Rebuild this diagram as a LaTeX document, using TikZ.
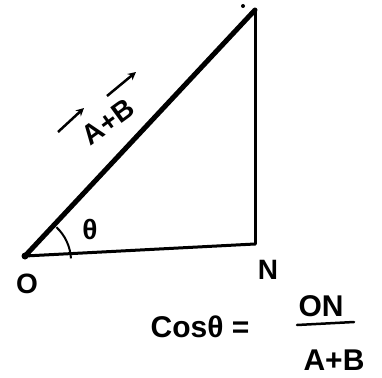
\documentclass[tikz,border=0pt]{standalone}
\usepackage{fontspec}
\setmainfont{Liberation Sans}
\usetikzlibrary{arrows.meta}
\begin{document}
\begin{tikzpicture}[x=1pt,y=-1pt,
  lbl/.style={inner sep=0pt, font=\fontsize{28}{30}\selectfont\bfseries},
  flbl/.style={inner sep=0pt, font=\fontsize{30}{32}\selectfont\bfseries},
  edge/.style={line width=3pt, line cap=round},
  vec/.style={line width=2.5pt, -{Stealth[length=8pt,width=8pt]}}]
\useasboundingbox (0,0) rectangle (382,377);
\coordinate (O) at (25,256);
\coordinate (T) at (255,10);
\coordinate (N) at (255,244);
\fill (O) circle (3.5);
\fill (243,6) circle (2);
\draw[line width=5pt, line cap=round] (O) -- (T);
\draw[edge] (T) -- (N);
\draw[edge] (O) -- (N);
\draw[line width=2pt] ([shift={(3:46)}]O) arc[start angle=-3, end angle=-47, radius=46];
\node[lbl] (o) at (27,284) {O};
\node[lbl] (n) at (268,270) {N};
\node[lbl] (th) at (90,229) {θ};
\node[lbl, rotate=36] (ab) at (108,122) {A+B};
\coordinate (a1) at (58,132);
\coordinate (a2) at (84,108);
\coordinate (b1) at (107,96);
\coordinate (b2) at (136,72);
\draw[vec] (a1) -- (a2);
\draw[vec] (b1) -- (b2);
\node[flbl] (cos) at (200,327) {Cosθ =};
\node[flbl] (on) at (321,306) {ON};
\node[flbl] (apb) at (334,360) {A+B};
\coordinate (f1) at (297,325);
\coordinate (f2) at (354,322);
\draw[line width=2.5pt, line cap=round] (f1) -- (f2);
\end{tikzpicture}
\end{document}
